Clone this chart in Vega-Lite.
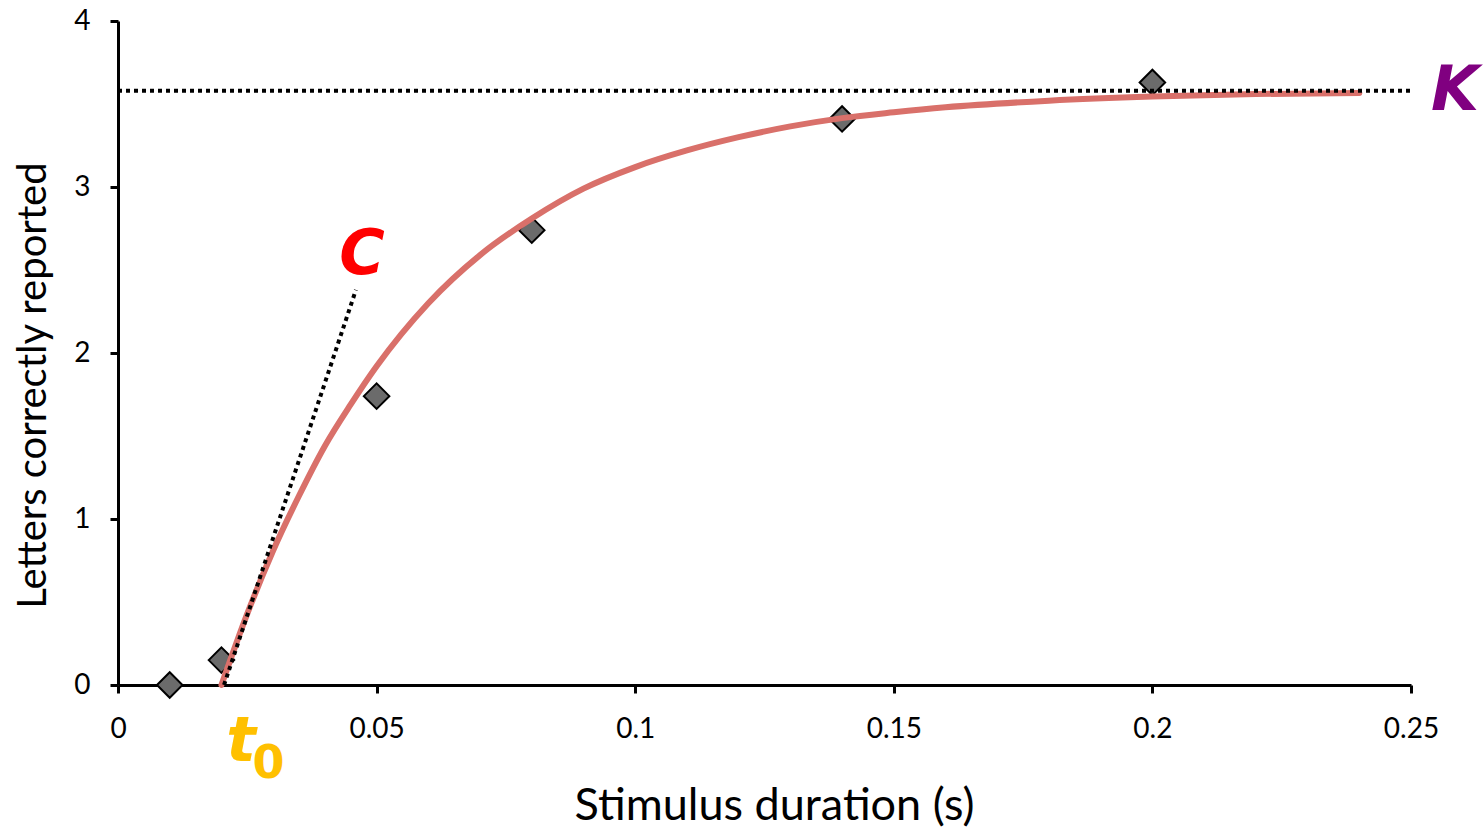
{
  "$schema": "https://vega.github.io/schema/vega-lite/v6.json",
  "width": 1293,
  "height": 664,
  "autosize": {"type": "none"},
  "padding": {"left": 118, "top": 21, "right": 72, "bottom": 144},
  "background": "white",
  "config": {
    "view": {"stroke": null},
    "axis": {
      "grid": false,
      "domainColor": "black",
      "domainWidth": 3,
      "tickColor": "black",
      "tickWidth": 3,
      "tickSize": 8,
      "labelFont": "Lato",
      "labelFontSize": 28,
      "labelColor": "black",
      "labelFlush": false,
      "titleFont": "Lato",
      "titleFontWeight": "normal",
      "titleColor": "black"
    }
  },
  "datasets": {
    "points": [
      {"t": 0.01, "letters": 0.0},
      {"t": 0.02, "letters": 0.15},
      {"t": 0.05, "letters": 1.74},
      {"t": 0.08, "letters": 2.74},
      {"t": 0.14, "letters": 3.41},
      {"t": 0.2, "letters": 3.63}
    ],
    "curve": [
      {"t": 0.02, "letters": 0.0},
      {"t": 0.025, "letters": 0.43},
      {"t": 0.03, "letters": 0.81},
      {"t": 0.035, "letters": 1.14},
      {"t": 0.04, "letters": 1.44},
      {"t": 0.045, "letters": 1.69},
      {"t": 0.05, "letters": 1.92},
      {"t": 0.06, "letters": 2.3},
      {"t": 0.07, "letters": 2.59},
      {"t": 0.08, "letters": 2.81},
      {"t": 0.09, "letters": 2.99},
      {"t": 0.1, "letters": 3.12},
      {"t": 0.11, "letters": 3.22},
      {"t": 0.12, "letters": 3.3},
      {"t": 0.13, "letters": 3.365},
      {"t": 0.14, "letters": 3.415},
      {"t": 0.15, "letters": 3.45},
      {"t": 0.16, "letters": 3.48},
      {"t": 0.18, "letters": 3.52},
      {"t": 0.2, "letters": 3.545},
      {"t": 0.22, "letters": 3.56},
      {"t": 0.24, "letters": 3.567}
    ],
    "kline": [
      {"t": 0.0, "letters": 3.58},
      {"t": 0.25, "letters": 3.58}
    ],
    "cline": [
      {"t": 0.0205, "letters": 0.0},
      {"t": 0.046, "letters": 2.38}
    ],
    "labelC": [{"t": 0.0472, "letters": 2.59, "label": "C"}],
    "labelK": [{"t": 0.2585, "letters": 3.58, "label": "K"}],
    "labelT": [{"t": 0.0238, "letters": -0.343, "label": "t"}],
    "labelT0": [{"t": 0.0291, "letters": -0.476, "label": "0"}]
  },
  "layer": [
    {
      "data": {"name": "points"},
      "mark": {"type": "point", "shape": "diamond", "filled": true, "fill": "#6b6b6b", "stroke": "black", "strokeWidth": 2, "size": 650, "opacity": 1},
      "encoding": {
        "x": {
          "field": "t", "type": "quantitative",
          "scale": {"domain": [0, 0.25], "nice": false, "zero": false},
          "axis": {"values": [0, 0.05, 0.1, 0.15, 0.2, 0.25], "format": "~g", "title": "Stimulus duration (s)", "titleFontSize": 45, "labelPadding": 22, "titlePadding": 40, "titleX": 656}
        },
        "y": {
          "field": "letters", "type": "quantitative",
          "scale": {"domain": [0, 4], "nice": false},
          "axis": {"values": [0, 1, 2, 3, 4], "format": "d", "title": "Letters correctly reported", "titleFontSize": 40, "labelPadding": 20, "titlePadding": 20, "titleY": 364}
        }
      }
    },
    {
      "data": {"name": "curve"},
      "mark": {"type": "line", "color": "#d9706a", "strokeWidth": 6, "strokeCap": "round", "interpolate": "monotone"},
      "encoding": {
        "x": {"field": "t", "type": "quantitative"},
        "y": {"field": "letters", "type": "quantitative"}
      }
    },
    {
      "data": {"name": "kline"},
      "mark": {"type": "line", "color": "black", "strokeWidth": 4, "strokeDash": [4, 4]},
      "encoding": {
        "x": {"field": "t", "type": "quantitative"},
        "y": {"field": "letters", "type": "quantitative"}
      }
    },
    {
      "data": {"name": "cline"},
      "mark": {"type": "line", "color": "black", "strokeWidth": 4, "strokeDash": [4, 4]},
      "encoding": {
        "x": {"field": "t", "type": "quantitative"},
        "y": {"field": "letters", "type": "quantitative"}
      }
    },
    {
      "data": {"name": "labelC"},
      "mark": {"type": "text", "font": "DejaVu Sans", "fontWeight": "bold", "fontStyle": "italic", "fontSize": 62, "color": "#ff0000", "baseline": "middle", "align": "center", "clip": false},
      "encoding": {
        "x": {"field": "t", "type": "quantitative"},
        "y": {"field": "letters", "type": "quantitative"},
        "text": {"field": "label"}
      }
    },
    {
      "data": {"name": "labelK"},
      "mark": {"type": "text", "font": "DejaVu Sans", "fontWeight": "bold", "fontStyle": "italic", "fontSize": 62, "color": "#800080", "baseline": "middle", "align": "center", "clip": false},
      "encoding": {
        "x": {"field": "t", "type": "quantitative"},
        "y": {"field": "letters", "type": "quantitative"},
        "text": {"field": "label"}
      }
    },
    {
      "data": {"name": "labelT"},
      "mark": {"type": "text", "font": "DejaVu Sans", "fontWeight": "bold", "fontStyle": "italic", "fontSize": 62, "color": "#ffc000", "baseline": "middle", "align": "center", "clip": false},
      "encoding": {
        "x": {"field": "t", "type": "quantitative"},
        "y": {"field": "letters", "type": "quantitative"},
        "text": {"field": "label"}
      }
    },
    {
      "data": {"name": "labelT0"},
      "mark": {"type": "text", "font": "DejaVu Sans", "fontWeight": "bold", "fontSize": 46, "color": "#ffc000", "baseline": "middle", "align": "center", "clip": false},
      "encoding": {
        "x": {"field": "t", "type": "quantitative"},
        "y": {"field": "letters", "type": "quantitative"},
        "text": {"field": "label"}
      }
    }
  ]
}
